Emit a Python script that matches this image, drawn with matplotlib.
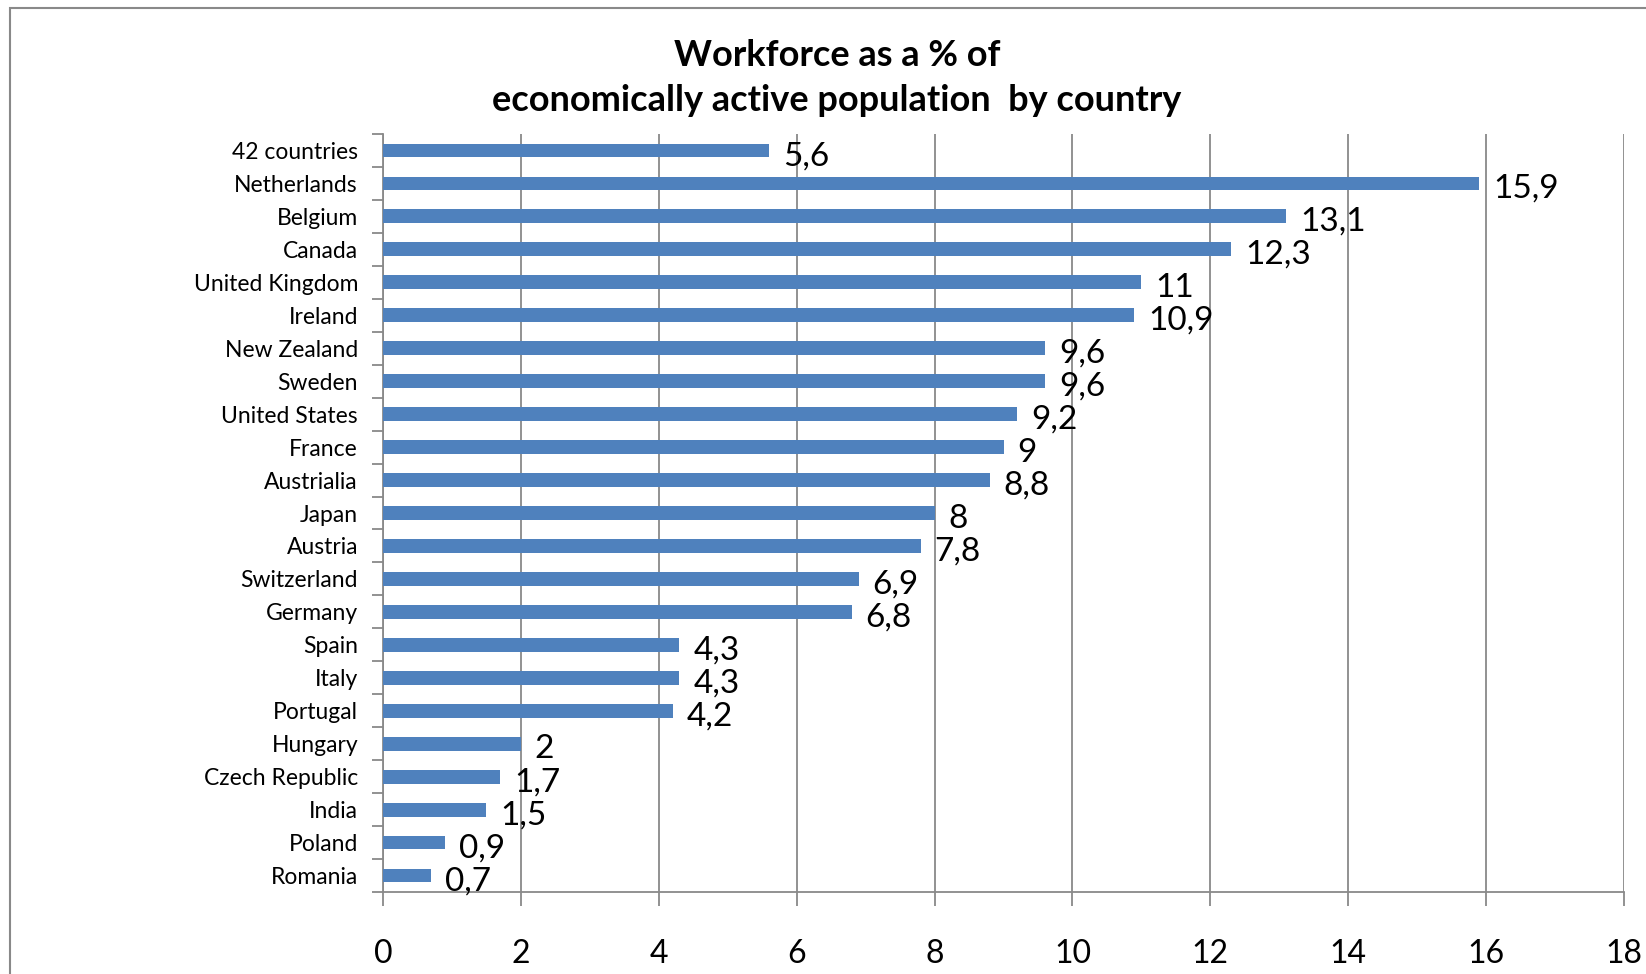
import matplotlib.pyplot as plt
from matplotlib.patches import Rectangle
from matplotlib.ticker import MultipleLocator, FixedLocator

countries = ["42 countries", "Netherlands", "Belgium", "Canada", "United Kingdom",
             "Ireland", "New Zealand", "Sweden", "United States", "France",
             "Austrialia", "Japan", "Austria", "Switzerland", "Germany", "Spain",
             "Italy", "Portugal", "Hungary", "Czech Republic", "India", "Poland",
             "Romania"]
values = [5.6, 15.9, 13.1, 12.3, 11, 10.9, 9.6, 9.6, 9.2, 9, 8.8, 8, 7.8,
          6.9, 6.8, 4.3, 4.3, 4.2, 2, 1.7, 1.5, 0.9, 0.7]

plt.rcParams['font.family'] = ['Lato', 'DejaVu Sans']
grey = '#898989'
blue = '#4F81BD'


def fmt(v):
    if v == int(v):
        return str(int(v))
    return ("%.1f" % v).replace('.', ',')


def main():
    fig = plt.figure(figsize=(16.46, 9.74), dpi=100)
    W, H = 1646, 974
    # plot area in pixels: x 383..1624, y 134..892
    ax = fig.add_axes([383 / W, 1 - 892 / H, (1624 - 383) / W, (892 - 134) / H])

    # outer chart frame (cut off at right and bottom like the source)
    fig.add_artist(Rectangle((10 / W, -0.05), 1.2, 1 - 8 / H + 0.05,
                             transform=fig.transFigure, fill=False,
                             edgecolor=grey, linewidth=1.5))

    pos = list(range(len(countries)))
    ax.barh(pos, values, height=0.42, color=blue, zorder=3)
    for p, v in zip(pos, values):
        ax.annotate(fmt(v), (v, p), xytext=(10, -4), textcoords='offset points',
                    ha='left', va='center', fontsize=24, zorder=4)

    ax.set_xlim(0, 18)
    ax.set_ylim(len(countries) - 0.5, -0.5)
    ax.xaxis.set_major_locator(MultipleLocator(2))
    ax.grid(axis='x', color=grey, linewidth=1.3, zorder=0)
    ax.set_yticks(pos)
    ax.set_yticklabels(countries, fontsize=16.5)
    ax.yaxis.set_minor_locator(FixedLocator([p - 0.5 for p in pos] + [len(pos) - 0.5]))
    ax.tick_params(axis='y', which='major', length=0, pad=18)
    ax.tick_params(axis='y', which='minor', length=8, width=1.3, color=grey, direction='out')
    ax.tick_params(axis='x', length=10, width=1.3, color=grey, labelsize=23, pad=24)

    for s in ['top', 'right']:
        ax.spines[s].set_visible(False)
    for s in ['left', 'bottom']:
        ax.spines[s].set_color(grey)
        ax.spines[s].set_linewidth(1.3)

    fig.text(837 / W, 1 - 78 / H, "Workforce as a % of\neconomically active population  by country",
             ha='center', va='center', fontsize=26, fontweight='bold', linespacing=1.45)

    fig.savefig("out.png", dpi=100)


if __name__ == '__main__':
    main()
